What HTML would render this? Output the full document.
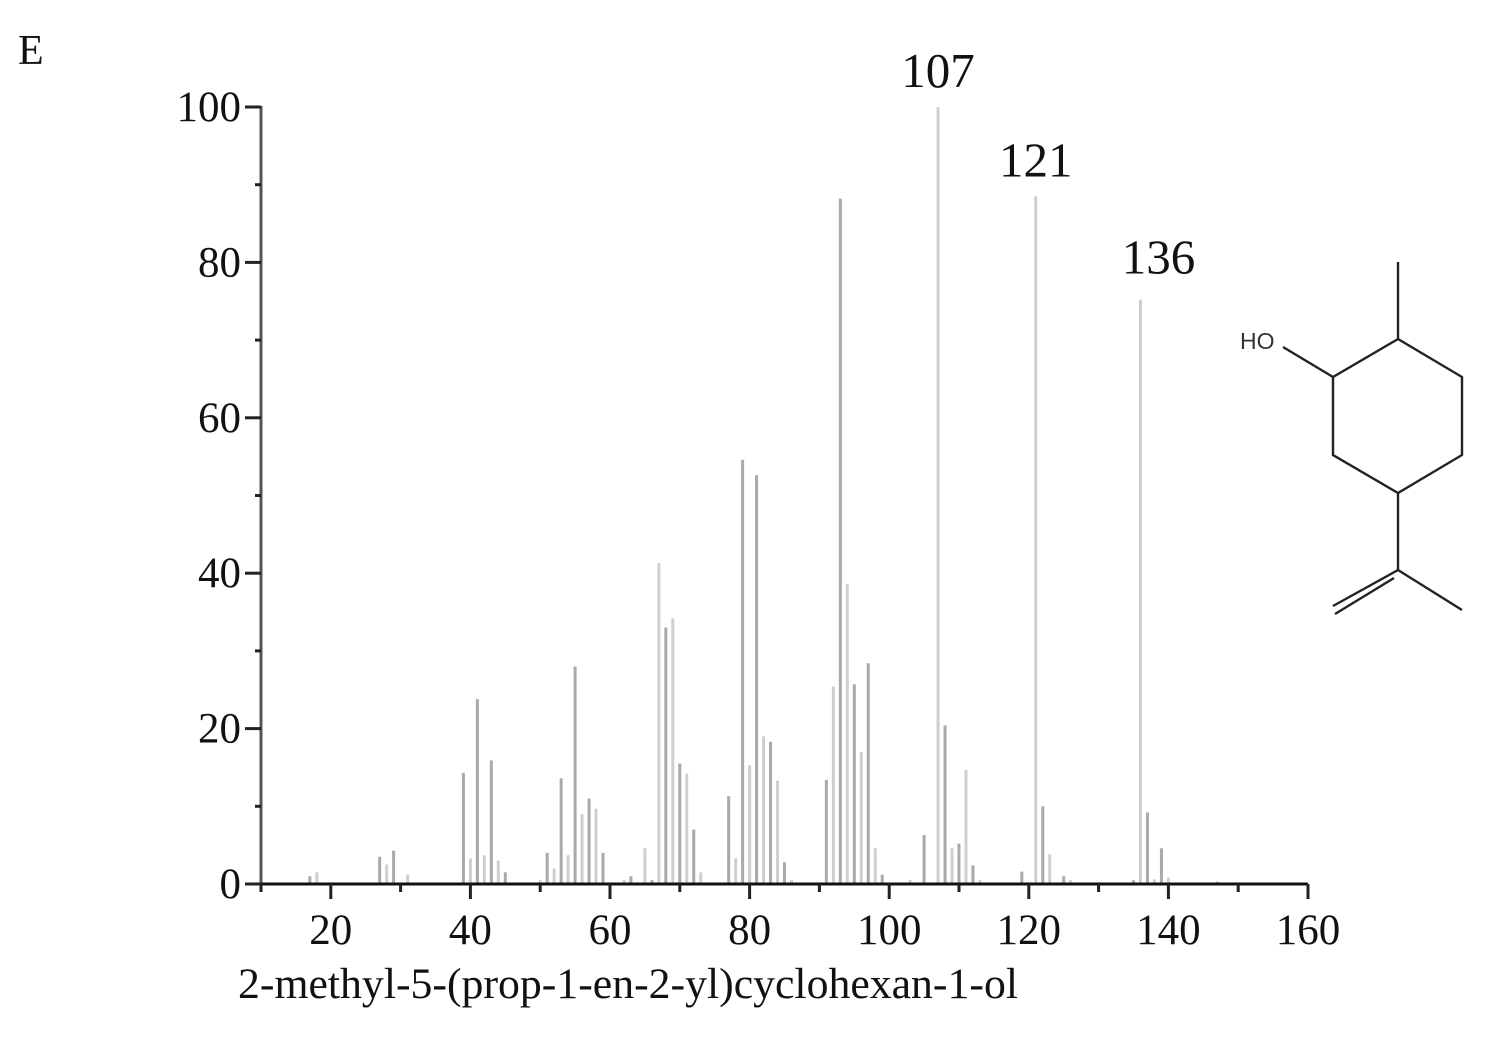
<!DOCTYPE html>
<html><head><meta charset="utf-8"><style>
html,body{margin:0;padding:0;background:#fff;}
svg{display:block;}
text{font-family:"Liberation Serif",serif;fill:#111;}
</style></head><body>
<svg id="chart" width="1504" height="1048" viewBox="0 0 1504 1048" xmlns="http://www.w3.org/2000/svg">
<text x="18" y="64" font-size="42">E</text>
<g id="bars"></g>
<g id="axes"></g>
<g id="labels"></g>
<text x="238" y="998" font-size="43.5" textLength="780" lengthAdjust="spacingAndGlyphs">2-methyl-5-(prop-1-en-2-yl)cyclohexan-1-ol</text>
<g stroke="#222" stroke-width="2.4" fill="none">
<polyline points="1398,262 1398,339 1333,377 1283,347"/>
<polyline points="1398,339 1462,377 1462,455 1398,493 1333,455 1333,377"/>
<polyline points="1398,493 1398,570 1462,610"/>
<line x1="1398" y1="570" x2="1333" y2="606"/>
<line x1="1394" y1="578" x2="1335" y2="614"/>
</g>
<text x="1240" y="349" font-size="23" style="font-family:'Liberation Sans',sans-serif;fill:#333">HO</text>
</svg>
<script>
const mz = [17,18,27,28,29,31,39,40,41,42,43,44,45,50,51,52,53,54,55,56,57,58,59,62,63,65,66,67,68,69,70,71,72,73,77,78,79,80,81,82,83,84,85,86,91,92,93,94,95,96,97,98,99,103,105,107,108,109,110,111,112,113,119,121,122,123,125,126,135,136,137,138,139,140,147];
const intensity = [1,1.5,3.5,2.5,4.3,1.2,14.3,3.3,23.8,3.7,15.9,3,1.5,0.5,4,2,13.6,3.7,28,9,11,9.7,4,0.5,1,4.6,0.5,41.3,33,34.2,15.5,14.2,7,1.5,11.3,3.3,54.6,15.3,52.6,19,18.3,13.3,2.8,0.5,13.4,25.4,88.2,38.6,25.7,17,28.4,4.6,1.2,0.5,6.3,100,20.4,4.6,5.2,14.7,2.4,0.5,1.6,88.5,10,3.8,1,0.5,0.5,75.2,9.2,0.6,4.6,0.8,0.3];
const xTicks = [20,40,60,80,100,120,140,160];
const yTicks = [0,20,40,60,80,100];
const peakLabels = [107,121,136];

const NS="http://www.w3.org/2000/svg";
const X0=261, X1=1308, xmin=10, xmax=160, Y0=884, Y1=107;
const xs=v=>X0+(v-xmin)/(xmax-xmin)*(X1-X0);
const ys=v=>Y0-v/100*(Y0-Y1);
function mk(tag,attrs,parent){const e=document.createElementNS(NS,tag);for(const k in attrs)e.setAttribute(k,attrs[k]);parent.appendChild(e);return e;}
const bars=document.getElementById('bars'), axes=document.getElementById('axes'), labels=document.getElementById('labels');
mz.forEach((m,i)=>{
  const r=mk('rect',{x:xs(m)-1.5,y:ys(intensity[i]),width:3,height:Y0-ys(intensity[i]),fill:(i%2?'#cfcfcf':'#a9a9a9')},bars);
  
  
});
let l=mk('line',{x1:X0,y1:Y1-1,x2:X0,y2:Y0+2,stroke:'#555','stroke-width':3},axes);


l=mk('line',{x1:X0-1,y1:Y0,x2:X1,y2:Y0,stroke:'#111','stroke-width':3},axes);


for(let v=xmin; v<=xmax; v+=10){
  const major=v%20===0;
  mk('line',{x1:xs(v),y1:Y0,x2:xs(v),y2:Y0+(major?15:8),stroke:'#222','stroke-width':3},axes);
}
xTicks.forEach(v=>{
  const t=mk('text',{x:xs(v),y:Y0+60,'font-size':43,'text-anchor':'middle'},axes);
  t.textContent=v;
  
  
});
for(let v=0; v<=100; v+=10){
  const major=v%20===0;
  mk('line',{x1:X0-(major?16:6),y1:ys(v),x2:X0,y2:ys(v),stroke:'#222','stroke-width':3},axes);
}
yTicks.forEach(v=>{
  const t=mk('text',{x:X0-20,y:ys(v)+14,'font-size':43,'text-anchor':'end'},axes);
  t.textContent=v;
  
  
});
peakLabels.forEach((m,k)=>{
  const i=mz.indexOf(m);
  const t=mk('text',{x:xs(m)+(k===2?18:0),y:ys(intensity[i])-20+(k===2?-6:0),'font-size':49,'text-anchor':'middle'},labels);
  t.textContent=m;
  
  
});
</script>
</body></html>
